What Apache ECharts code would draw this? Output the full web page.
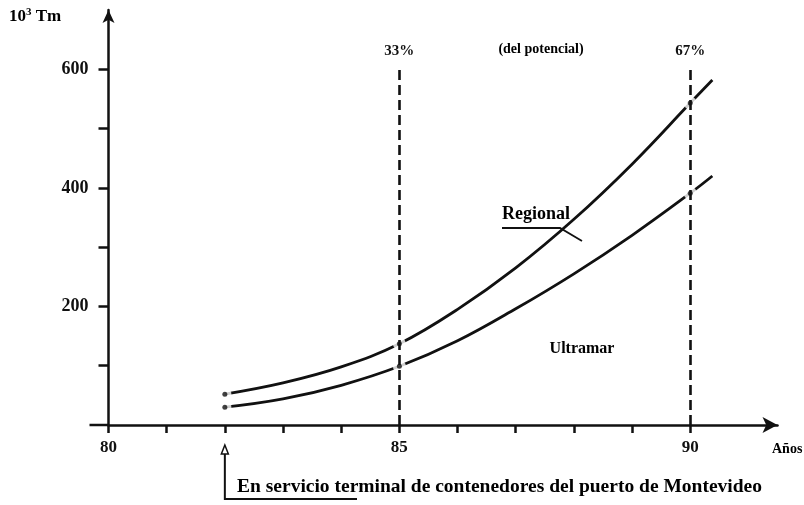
<!DOCTYPE html>
<html>
<head>
<meta charset="utf-8">
<script src="https://cdn.jsdelivr.net/npm/echarts@6/dist/echarts.min.js"></script>
<style>
  html, body { margin: 0; padding: 0; background: #fff; }
  #chart { width: 804px; height: 505px; }
</style>
</head>
<body>
<div id="chart"></div>
<script>
// Container traffic forecast (thousand tonnes) by year
const years     = [82, 83, 84, 85, 86, 87, 88, 89, 90, 90.38];
const regional  = [52, 71, 98, 137, 195, 265, 347, 440, 543, 582];
const ultramar  = [30, 44, 67, 99, 142, 196, 255, 320, 391, 420];

// Years marked with a dot on each curve
const dotYears = [82, 85, 90];

// Share of the potential reached at the marked years
const markYears = [85, 90];
const markShares = ['33%', '67%'];

// Axis ticks and labels
const xTicks  = [80, 81, 82, 83, 84, 85, 86, 87, 88, 89, 90];
const xLabels = [80, 85, 90];
const yTicks  = [100, 200, 300, 400, 500, 600];
const yLabels = [200, 400, 600];

const INK = '#111';
const FONT = '"Liberation Serif", "Times New Roman", serif';
const DASH_TOP = 605;

const pairs = ys => years.map((x, i) => [x, ys[i]]);
const dots = ys => years.map((x, i) => [x, ys[i]]).filter(p => dotYears.includes(p[0]));

const chart = echarts.init(document.getElementById('chart'), null, { renderer: 'canvas' });

const textStyle = (size) => ({ fontFamily: FONT, fontWeight: 'bold', fontSize: size, color: INK });

chart.setOption({
  backgroundColor: '#fff',
  animation: false,
  grid: { left: 108.5, right: 26.5, top: 10, bottom: 80 },
  xAxis: {
    type: 'value', min: 80, max: 91.5, interval: 1,
    splitLine: { show: false },
    axisLine: { symbol: ['none', 'arrow'], symbolSize: [12, 15], lineStyle: { color: INK, width: 2.5 } },
    axisTick: { customValues: xTicks, length: 8, lineStyle: { color: INK, width: 2.5 } },
    axisLabel: Object.assign({ customValues: xLabels, margin: 14 }, textStyle(17))
  },
  yAxis: {
    type: 'value', min: 0, max: 700, interval: 100,
    splitLine: { show: false },
    axisLine: { symbol: ['none', 'arrow'], symbolSize: [9, 13], lineStyle: { color: INK, width: 2.5 } },
    axisTick: { customValues: yTicks, length: 10, lineStyle: { color: INK, width: 2.5 } },
    axisLabel: Object.assign({ customValues: yLabels, margin: 20 }, textStyle(18))
  },
  series: [
    {
      name: 'Regional', type: 'line', data: pairs(regional), smooth: 0.4,
      symbol: 'none', z: 2, lineStyle: { color: INK, width: 2.8 }
    },
    {
      name: 'Ultramar', type: 'line', data: pairs(ultramar), smooth: 0.4,
      symbol: 'none', z: 2, lineStyle: { color: INK, width: 2.8 }
    },
    {
      // white halo that opens a small gap in the curves around each dot
      name: 'halo', type: 'scatter', data: dots(regional).concat(dots(ultramar)),
      symbolSize: 13, z: 3, silent: true, itemStyle: { color: '#fff' }
    },
    {
      name: 'marks', type: 'line', data: [], z: 4,
      markLine: {
        silent: true, symbol: ['none', 'none'],
        lineStyle: { color: INK, width: 2.6, type: [10, 5] },
        label: Object.assign({ show: true, position: 'end', distance: 8, formatter: '{b}' }, textStyle(15)),
        data: markYears.map((x, i) => [
          { coord: [x, 0], name: markShares[i] },
          { coord: [x, DASH_TOP] }
        ])
      }
    },
    {
      name: 'dots', type: 'scatter', data: dots(regional).concat(dots(ultramar)),
      symbolSize: 5, z: 5, silent: true, itemStyle: { color: INK }
    }
  ]
});

// Annotations placed from axis coordinates
const toPx = (x, y) => chart.convertToPixel({ gridIndex: 0 }, [x, y]);
const origin = toPx(80, 0);
const ax = toPx(dotYears[0], 0)[0];

chart.setOption({
  graphic: [
    // axis stub left of the origin
    { type: 'line', shape: { x1: origin[0] - 19, y1: origin[1], x2: origin[0], y2: origin[1] },
      style: { stroke: INK, lineWidth: 2.5 } },
    { type: 'text', left: 9, top: 7,
      style: { text: '{b|10}{s|3}{b| Tm}', rich: { b: textStyle(17), s: Object.assign(textStyle(11), { verticalAlign: 'top', padding: [0, 0, 9, 0] }) } } },
    { type: 'text', x: 541, y: 49,
      style: Object.assign({ text: '(del potencial)', align: 'center', verticalAlign: 'middle' }, textStyle(14)) },
    { type: 'text', x: 772, y: 449,
      style: Object.assign({ text: 'Años', align: 'left', verticalAlign: 'middle' }, textStyle(14)) },
    { type: 'text', x: 502, y: 214,
      style: Object.assign({ text: 'Regional', align: 'left', verticalAlign: 'middle' }, textStyle(18)) },
    { type: 'polyline', shape: { points: [[502, 228], [560, 228], [582, 241]] },
      style: { stroke: INK, lineWidth: 1.8, fill: null } },
    { type: 'text', x: 582, y: 349,
      style: Object.assign({ text: 'Ultramar', align: 'center', verticalAlign: 'middle' }, textStyle(16)) },
    // start-of-service pointer
    { type: 'polyline', shape: { points: [[ax, 452], [ax, 499], [357, 499]] },
      style: { stroke: INK, lineWidth: 2, fill: null } },
    { type: 'polygon', shape: { points: [[ax, 445], [ax - 3.5, 454], [ax + 3.5, 454]] },
      style: { stroke: INK, lineWidth: 1.5, fill: '#fff' } },
    { type: 'text', x: 237, y: 487,
      style: Object.assign({ text: 'En servicio terminal de contenedores del puerto de Montevideo', align: 'left', verticalAlign: 'middle' }, textStyle(19.5)) }
  ]
});
</script>
</body>
</html>
